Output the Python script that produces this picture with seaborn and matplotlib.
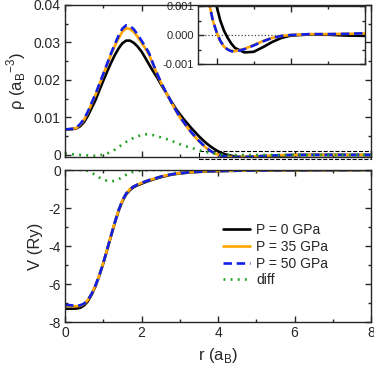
import matplotlib
matplotlib.use('Agg')
import matplotlib.pyplot as plt
from matplotlib.ticker import MultipleLocator
from matplotlib.patches import Rectangle
import seaborn as sns

# radial grid (a_B): 0.1 steps up to 4.5, then coarser
r = [0.0, 0.1, 0.2, 0.3, 0.4, 0.5, 0.6, 0.7, 0.8, 0.9,
     1.0, 1.1, 1.2, 1.3, 1.4, 1.5, 1.6, 1.7, 1.8, 1.9,
     2.0, 2.1, 2.2, 2.3, 2.4, 2.5, 2.6, 2.7, 2.8, 2.9,
     3.0, 3.1, 3.2, 3.3, 3.4, 3.5, 3.6, 3.7, 3.8, 3.9,
     4.0, 4.1, 4.2, 4.3, 4.4, 4.5,
     4.75, 5.0, 5.25, 5.5, 5.75, 6.0, 6.5, 7.0, 7.5, 8.0]

# densities rho (a_B^-3)
rho_0 = [0.0068, 0.0068, 0.0069, 0.0071, 0.0077, 0.0088, 0.0105, 0.0126, 0.0147, 0.0173,
         0.0198, 0.0222, 0.0245, 0.0266, 0.0284, 0.0298, 0.0305, 0.0305, 0.0299, 0.0289,
         0.0276, 0.0259, 0.0241, 0.0224, 0.0208, 0.0190, 0.0173, 0.0156, 0.0139, 0.0123,
         0.0109, 0.0096, 0.0084, 0.0072, 0.0061, 0.0050, 0.0040, 0.0031, 0.0023, 0.0016,
         0.0010, 0.0005, 0.00015, -0.0001, -0.0003, -0.00045,
         -0.0006, -0.00058, -0.00042, -0.00024, -0.0001, -0.00002, 0.00002, 0.00001, -0.00002, -0.00003]
rho_35 = [0.0068, 0.0069, 0.0070, 0.0072, 0.0081, 0.0094, 0.0114, 0.0138, 0.0161, 0.0188,
          0.0214, 0.0241, 0.0267, 0.0290, 0.0311, 0.0329, 0.0338, 0.0336, 0.0328, 0.0315,
          0.0300, 0.0284, 0.0267, 0.0242, 0.0218, 0.0195, 0.0174, 0.0155, 0.0136, 0.0118,
          0.0101, 0.0087, 0.0073, 0.0060, 0.0048, 0.0037, 0.0027, 0.0018, 0.0011, 0.0005,
          0.0001, -0.0002, -0.0004, -0.0005, -0.00055, -0.00056,
          -0.00048, -0.00035, -0.00021, -0.0001, -0.00003, 0.0, 0.00003, 0.00003, 0.00004, 0.00005]
rho_50 = [0.0068, 0.0069, 0.0070, 0.0073, 0.0083, 0.0096, 0.0116, 0.0140, 0.0163, 0.0190,
          0.0216, 0.0243, 0.0270, 0.0295, 0.0318, 0.0337, 0.0346, 0.0344, 0.0335, 0.0321,
          0.0305, 0.0289, 0.0271, 0.0244, 0.0219, 0.0196, 0.0175, 0.0156, 0.0137, 0.0119,
          0.0102, 0.0088, 0.0074, 0.0061, 0.0049, 0.0038, 0.0028, 0.0019, 0.0011, 0.0005,
          0.0001, -0.0002, -0.0004, -0.0005, -0.00056, -0.00057,
          -0.00049, -0.00036, -0.00022, -0.0001, -0.00003, 0.0, 0.00003, 0.00003, 0.00004, 0.00006]
rho_diff = [0.0004, 0.0003, 0.0002, 0.0001, 0.0000, -0.0001, -0.0001, -0.0002, -0.0002, -0.0001,
            0.0001, 0.0004, 0.0008, 0.0014, 0.0021, 0.0028, 0.0035, 0.0041, 0.0046, 0.0050,
            0.0053, 0.0055, 0.0055, 0.0053, 0.0050, 0.0047, 0.0044, 0.0041, 0.0037, 0.0033,
            0.0029, 0.0026, 0.0022, 0.0019, 0.0016, 0.0013, 0.0010, 0.0008, 0.0005, 0.0004,
            0.0002, 0.0001, 0.0, 0.0, 0.0, 0.0,
            0.0, 0.0, 0.0, 0.0, 0.0, 0.0, 0.0, 0.0, 0.0, 0.0]

# potentials V (Ry)
V_0 = [-7.30, -7.30, -7.30, -7.29, -7.25, -7.13, -6.90, -6.55, -6.10, -5.55,
       -4.92, -4.22, -3.50, -2.80, -2.16, -1.64, -1.28, -1.05, -0.90, -0.80,
       -0.72, -0.64, -0.57, -0.50, -0.44, -0.38, -0.33, -0.28, -0.24, -0.21,
       -0.18, -0.16, -0.14, -0.12, -0.11, -0.10, -0.09, -0.08, -0.07, -0.065,
       -0.06, -0.055, -0.05, -0.045, -0.042, -0.04,
       -0.033, -0.027, -0.022, -0.018, -0.015, -0.012, -0.008, -0.005, -0.003, -0.001]
V_35 = [-7.15, -7.16, -7.17, -7.17, -7.15, -7.05, -6.83, -6.50, -6.06, -5.52,
        -4.89, -4.19, -3.47, -2.77, -2.12, -1.60, -1.23, -1.00, -0.86, -0.76,
        -0.68, -0.60, -0.53, -0.47, -0.41, -0.35, -0.30, -0.26, -0.22, -0.19,
        -0.17, -0.15, -0.13, -0.115, -0.10, -0.09, -0.08, -0.07, -0.065, -0.06,
        -0.055, -0.05, -0.045, -0.042, -0.039, -0.036,
        -0.03, -0.025, -0.02, -0.017, -0.014, -0.011, -0.007, -0.004, -0.002, -0.001]
V_50 = [-7.10, -7.11, -7.13, -7.14, -7.12, -7.03, -6.83, -6.50, -6.06, -5.52,
        -4.89, -4.19, -3.47, -2.77, -2.12, -1.60, -1.23, -1.00, -0.86, -0.76,
        -0.68, -0.60, -0.53, -0.47, -0.41, -0.35, -0.30, -0.26, -0.22, -0.19,
        -0.17, -0.15, -0.13, -0.115, -0.10, -0.09, -0.08, -0.07, -0.065, -0.06,
        -0.055, -0.05, -0.045, -0.042, -0.039, -0.036,
        -0.03, -0.025, -0.02, -0.017, -0.014, -0.011, -0.007, -0.004, -0.002, -0.001]
V_diff = [0.0, 0.0, 0.0, 0.0, 0.0, 0.0, -0.05, -0.15, -0.27, -0.40,
          -0.50, -0.57, -0.60, -0.57, -0.49, -0.37, -0.25, -0.15, -0.09, -0.05,
          -0.03, -0.02, -0.01, 0.0, 0.0, 0.0, 0.0, 0.0, 0.0, 0.0,
          0.0, 0.0, 0.0, 0.0, 0.0, 0.0, 0.0, 0.0, 0.0, 0.0,
          0.0, 0.0, 0.0, 0.0, 0.0, 0.0,
          0.0, 0.0, 0.0, 0.0, 0.0, 0.0, 0.0, 0.0, 0.0, 0.0]

labels = ['P = 0 GPa', 'P = 35 GPa', 'P = 50 GPa', 'diff']

sns.set_style('ticks')
plt.rcParams['font.family'] = ['Liberation Sans', 'DejaVu Sans']
plt.rcParams['mathtext.fontset'] = 'custom'
plt.rcParams['mathtext.rm'] = 'Liberation Sans'
plt.rcParams['axes.unicode_minus'] = False

lw = 1.9
styles = [
    dict(color='black', linestyle='-', linewidth=lw),
    dict(color='#ffa500', linestyle='-', linewidth=lw),
    dict(color='#1020e8', linestyle=(0, (3.2, 1.8)), linewidth=lw),
    dict(color='#1fa01f', linestyle=(0, (0.7, 2.0)), linewidth=lw),
]

fig = plt.figure(figsize=(3.74, 3.65), dpi=100)
ax1 = fig.add_axes([65/374, 1 - 157/365, 306/374, 152/365])
ax2 = fig.add_axes([65/374, 1 - 322/365, 306/374, 152/365])
ax3 = fig.add_axes([198/374, 1 - 64/365, 167/374, 58/365])


def style_axis(ax, xmaj, xmin, ymaj, ymin, size=10):
    ax.xaxis.set_major_locator(MultipleLocator(xmaj))
    ax.xaxis.set_minor_locator(MultipleLocator(xmin))
    ax.yaxis.set_major_locator(MultipleLocator(ymaj))
    ax.yaxis.set_minor_locator(MultipleLocator(ymin))
    ax.tick_params(which='both', direction='in', top=True, right=True,
                   width=1.0, labelsize=size, pad=3)
    ax.tick_params(which='major', length=4.5)
    ax.tick_params(which='minor', length=2.5)
    for s in ax.spines.values():
        s.set_linewidth(1.0)


# top panel: density
for y, st in zip([rho_0, rho_35, rho_50, rho_diff], styles):
    sns.lineplot(x=r, y=y, ax=ax1, sort=False, legend=False, **st)
ax1.set_xlim(0, 8)
ax1.set_ylim(-0.00054, 0.04)
style_axis(ax1, 2, 1, 0.01, 0.005)
ax1.set_yticks([0, 0.01, 0.02, 0.03, 0.04])
ax1.set_yticklabels(['0', '0.01', '0.02', '0.03', '0.04'])
ax1.tick_params(labelbottom=False)
ax1.set_ylabel('ρ (a$_\\mathregular{B}$$^\\mathregular{-3}$)', fontsize=12)
ax1.add_patch(Rectangle((3.5, -0.001), 4.5, 0.002, fill=False, linestyle='--',
                        linewidth=0.8, edgecolor='black', clip_on=False))

# bottom panel: potential
for y, st, lab in zip([V_0, V_35, V_50, V_diff], styles, labels):
    sns.lineplot(x=r, y=y, ax=ax2, sort=False, label=lab, **st)
ax2.set_xlim(0, 8)
ax2.set_ylim(-8, 0)
style_axis(ax2, 2, 1, 2, 1)
ax2.set_xlabel('r (a$_\\mathregular{B}$)', fontsize=12)
ax2.set_ylabel('V (Ry)', fontsize=12)
ax2.legend(loc='center left', bbox_to_anchor=(0.477, 0.44), frameon=False,
           fontsize=10, handlelength=1.9, handletextpad=0.45, labelspacing=0.2)

# inset: tail of the density
ax3.axhline(0, color='#444444', linestyle=':', linewidth=0.9)
for y, st in zip([rho_0, rho_35, rho_50], styles[:3]):
    sns.lineplot(x=r, y=y, ax=ax3, sort=False, legend=False, **st)
ax3.set_xlim(3.5, 8)
ax3.set_ylim(-0.001, 0.001)
style_axis(ax3, 2, 1, 0.001, 0.0005, size=8)
ax3.set_yticks([-0.001, 0, 0.001])
ax3.set_yticklabels(['-0.001', '0.000', '0.001'])
ax3.tick_params(labelbottom=False)
ax3.set_xlabel('')
ax3.set_ylabel('')
ax3.patch.set_facecolor('white')

fig.savefig('out.png', dpi=100)
